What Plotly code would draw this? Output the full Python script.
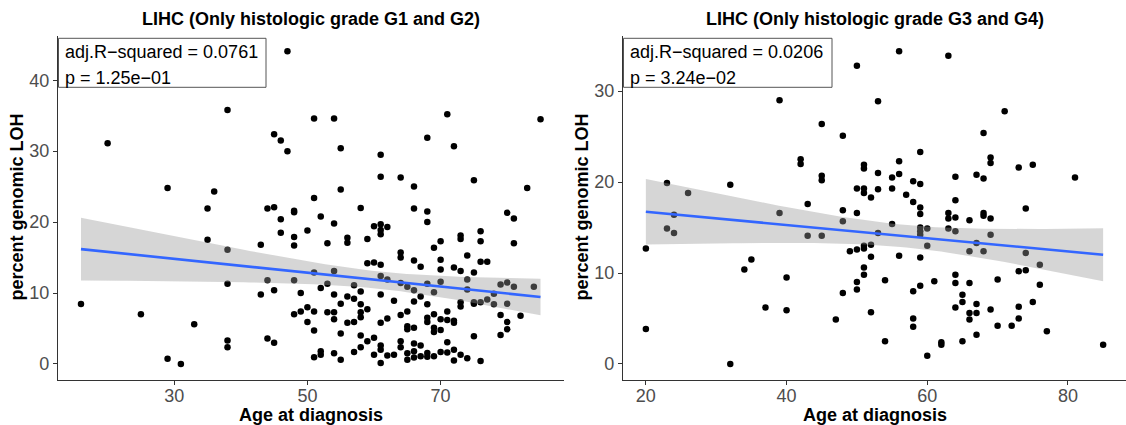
import numpy as np
import plotly.graph_objects as go

# ---------------- data ----------------
# Panel 1: LIHC, histologic grade G1 and G2
g12_age = [16, 20, 25, 29, 29, 31, 33, 35, 35, 36,
           38, 38, 38, 38, 38, 43, 43, 44, 44, 44,
           45, 45, 45, 45, 46, 46, 46, 47, 47,
           48, 48, 48, 48, 48, 48, 49, 49, 50, 50, 50,
           51, 51, 51, 51, 51, 51, 52, 52, 52, 52, 53, 53, 53,
           54, 54, 54, 54, 54, 54, 54, 55, 55, 55, 55, 55,
           56, 56, 56, 56, 57, 57, 57, 57,
           58, 58, 58, 58, 58, 58, 58, 59, 59, 59, 59, 60, 60, 60, 60,
           61, 61, 61, 61, 61, 61, 61, 61, 61, 61, 61, 61,
           62, 62, 62, 62, 63, 63,
           64, 64, 64, 64, 64, 64, 64, 65, 65, 65, 65, 65, 65,
           66, 66, 66, 66, 66, 66, 66, 66, 66, 67, 67, 67, 67,
           68, 68, 68, 68, 68, 68, 68, 68, 68, 69, 69, 69, 69, 69, 69,
           70, 70, 70, 70, 70, 70, 70, 71, 71, 71, 71, 71,
           72, 72, 72, 72, 72, 72, 73, 73, 73, 73, 73, 73,
           74, 74, 74, 74, 75, 75, 75, 75, 75, 76, 76, 76, 76, 76,
           77, 77, 78, 78, 79, 79, 79, 80, 80, 80, 80, 80,
           81, 81, 81, 82, 83, 84, 85]
g12_loh = [8.45, 31.1, 7.0, 24.8, 0.75, 0.0, 5.6, 21.9, 17.5, 24.3,
           35.8, 16.1, 11.3, 3.3, 2.35, 16.8, 9.8, 21.9, 11.8, 3.6,
           32.4, 22.1, 10.4, 3.0, 31.5, 20.4, 18.5, 44.1, 30.0,
           21.6, 21.4, 17.9, 16.7, 11.8, 7.0, 7.4, 10.0, 18.8, 8.0, 5.9,
           34.6, 23.4, 12.9, 7.4, 4.7, 0.95, 20.8, 10.7, 1.8, 1.3, 17.0, 11.3, 7.3,
           34.6, 19.8, 13.1, 9.8, 7.3, 6.3, 1.5, 30.4, 24.6, 8.5, 4.3, 0.6,
           17.8, 17.1, 9.5, 5.8, 11.1, 9.2, 5.9, 1.7,
           22.0, 10.2, 8.4, 7.3, 6.6, 4.0, 2.35, 17.6, 14.2, 7.7, 3.2, 19.4, 14.3, 3.7, 1.3,
           29.5, 26.4, 19.7, 18.9, 18.3, 14.0, 12.4, 9.8, 5.8, 2.6, 2.0, 0.15,
           19.3, 11.9, 6.4, 1.2, 8.9, 1.3,
           26.3, 15.7, 15.0, 11.4, 6.9, 3.2, 2.35, 10.9, 7.4, 5.3, 4.9, 1.5, 0.6,
           25.0, 21.9, 14.6, 10.4, 8.8, 5.1, 2.9, 1.8, 0.9, 13.7, 9.5, 2.6, 1.1,
           31.9, 21.5, 20.0, 11.3, 8.4, 6.5, 5.9, 1.55, 1.0, 16.4, 10.1, 7.0, 5.1, 4.5, 1.1,
           17.3, 14.7, 13.3, 11.6, 6.3, 4.8, 1.7, 35.2, 7.4, 6.2, 3.05, 1.6,
           30.7, 13.6, 6.1, 5.8, 2.0, 0.5, 18.1, 17.6, 13.1, 8.7, 8.1, 1.3,
           15.3, 11.9, 10.5, 0.8, 25.9, 12.9, 8.7, 8.5, 3.9, 18.7, 17.3, 14.4, 8.7, 0.4,
           14.4, 9.1, 9.9, 8.4, 11.2, 6.9, 4.1, 21.3, 11.5, 8.5, 5.9, 4.9,
           20.5, 17.0, 10.9, 6.8, 24.8, 10.9, 34.5]

# Panel 2: LIHC, histologic grade G3 and G4
g34_age = [20, 20, 23, 23, 24, 24, 26, 32, 32, 34, 35, 37, 39, 39, 40, 40,
           42, 42, 43, 43, 45, 45, 45, 45, 47, 48, 48, 48, 48, 49,
           50, 50, 50, 50, 50, 50, 51, 51, 51, 51, 51, 51, 51, 51,
           52, 52, 52, 52, 53, 53, 53, 53, 54, 54, 55, 55, 55,
           56, 56, 56, 56, 57, 58, 58, 58, 58, 58,
           59, 59, 59, 59, 59, 59, 59, 59, 59, 60, 60, 60, 61, 62, 62,
           63, 63, 63, 63, 64, 64, 64, 64, 64, 64, 64, 65, 65, 65,
           66, 66, 66, 66, 66, 67, 67, 67, 67, 67, 68, 68, 68, 68, 68,
           69, 69, 69, 69, 69, 70, 70, 71, 72, 73, 73, 73, 73,
           74, 74, 74, 75, 75, 76, 76, 77, 81, 85]
g34_loh = [12.7, 3.84, 19.9, 14.9, 16.4, 14.4, 18.8, 19.7, 0.0, 10.4, 11.5, 6.2, 29.0, 16.6, 9.5, 5.9,
           22.5, 22.0, 17.6, 14.1, 26.4, 20.7, 20.2, 14.1, 4.9, 25.1, 16.9, 15.7, 7.8, 12.4,
           32.8, 19.3, 16.6, 12.6, 9.0, 8.2, 21.9, 21.5, 19.3, 18.8, 13.0, 12.7, 10.6, 9.8,
           18.3, 13.1, 11.8, 5.7, 28.9, 21.0, 19.2, 14.4, 9.2, 2.5, 20.5, 19.3, 15.4,
           34.4, 22.3, 20.9, 11.9, 18.6, 20.1, 17.8, 8.0, 5.0, 4.1,
           23.3, 19.8, 17.2, 16.5, 15.0, 14.6, 14.2, 11.7, 8.6, 14.9, 13.0, 0.9, 9.1, 2.4, 2.1,
           33.9, 16.6, 16.0, 14.9, 20.6, 18.0, 16.1, 14.6, 9.8, 8.9, 6.2, 7.6, 6.8, 2.5,
           15.8, 12.4, 8.9, 5.6, 4.9, 20.8, 13.3, 6.6, 5.6, 3.2, 25.4, 20.4, 16.6, 16.3, 12.4,
           22.7, 22.1, 16.0, 14.2, 6.0, 9.3, 4.2, 27.8, 4.2, 21.6, 10.2, 6.3, 5.0,
           17.1, 12.2, 10.3, 21.9, 6.8, 10.9, 8.7, 3.6, 20.5, 2.1]

titles = ["LIHC (Only histologic grade G1 and G2)", "LIHC (Only histologic grade G3 and G4)"]
stats_r2 = ["adj.R\u2212squared = 0.0761", "adj.R\u2212squared = 0.0206"]
stats_p = ["p = 1.25e\u221201", "p = 3.24e\u221202"]
x_ticks = [[30, 50, 70], [20, 40, 60, 80]]
y_ticks = [[0, 10, 20, 30, 40], [0, 10, 20, 30]]
x_label = "Age at diagnosis"
y_label = "percent genomic LOH"

# ---------------- layout geometry ----------------
W, H = 1126, 425
FONT = "Liberation Sans, Arial, Helvetica, sans-serif"
panels_px = [(58, 563.5), (623, 1126)]   # plot-area left/right in px
top_px, bot_px = 35.5, 379.6


def px_x(p):
    return p / W


def px_y(p):
    return 1 - p / H


def lm_band(x, y, t=1.97, n_out=80):
    x = np.asarray(x, float)
    y = np.asarray(y, float)
    n = len(x)
    xb = x.mean()
    sxx = ((x - xb) ** 2).sum()
    b = ((x - xb) * (y - y.mean())).sum() / sxx
    a = y.mean() - b * xb
    res = y - (a + b * x)
    s = np.sqrt((res ** 2).sum() / (n - 2))
    xs = np.linspace(x.min(), x.max(), n_out)
    fit = a + b * xs
    se = s * np.sqrt(1 / n + (xs - xb) ** 2 / sxx)
    return xs, fit, fit - t * se, fit + t * se


def expand(v):
    lo, hi = min(v), max(v)
    d = (hi - lo) * 0.05
    return [lo - d, hi + d]


fig = go.Figure()
datasets = [(g12_age, g12_loh), (g34_age, g34_loh)]
annotations = []
shapes = []

for i, (ages, vals) in enumerate(datasets):
    xa = "x" if i == 0 else "x2"
    ya = "y" if i == 0 else "y2"
    fig.add_trace(go.Scatter(x=ages, y=vals, mode="markers", xaxis=xa, yaxis=ya,
                             marker=dict(color="black", size=6.5, line=dict(width=0)),
                             showlegend=False, hoverinfo="skip"))
    xs, fit, lo, hi = lm_band(ages, vals, t=1.97 if i == 0 else 1.98)
    fig.add_trace(go.Scatter(x=list(xs) + list(xs[::-1]), y=list(hi) + list(lo[::-1]),
                             mode="lines", fill="toself", line=dict(width=0),
                             fillcolor="rgba(153,153,153,0.4)", xaxis=xa, yaxis=ya,
                             showlegend=False, hoverinfo="skip"))
    fig.add_trace(go.Scatter(x=xs, y=fit, mode="lines", line=dict(color="#3366FF", width=2.6),
                             xaxis=xa, yaxis=ya, showlegend=False, hoverinfo="skip"))

    l, r = panels_px[i]
    cx = (l + r) / 2
    axis_common = dict(showgrid=False, zeroline=False, showline=True, linecolor="#333333",
                       linewidth=1.3, ticks="outside", ticklen=4, tickwidth=1.1,
                       tickcolor="#333333", tickfont=dict(family=FONT, size=18, color="#4D4D4D"),
                       automargin=False, fixedrange=True)
    xkey = "xaxis" if i == 0 else "xaxis2"
    ykey = "yaxis" if i == 0 else "yaxis2"
    fig.update_layout(**{
        xkey: dict(domain=[px_x(l), px_x(r)], range=expand(ages), tickvals=x_ticks[i],
                   anchor=ya, ticklabelstandoff=-4, **axis_common),
        ykey: dict(domain=[px_y(bot_px), px_y(top_px)], range=expand(vals), tickvals=y_ticks[i],
                   anchor=xa, **axis_common),
    })

    # panel title
    annotations.append(dict(text=titles[i], x=px_x(cx), y=px_y(19), xref="paper", yref="paper",
                            xanchor="center", yanchor="middle", showarrow=False,
                            font=dict(family=FONT, size=18, color="black", weight="bold")))
    # axis titles
    annotations.append(dict(text=x_label, x=px_x(cx), y=px_y(415), xref="paper", yref="paper",
                            xanchor="center", yanchor="middle", showarrow=False,
                            font=dict(family=FONT, size=18, color="black", weight="bold")))
    annotations.append(dict(text=y_label, x=px_x(l - 41), y=px_y((top_px + bot_px) / 2),
                            xref="paper", yref="paper", textangle=-90,
                            xanchor="center", yanchor="middle", showarrow=False,
                            font=dict(family=FONT, size=18, color="black", weight="bold")))
    # statistics label box
    bx0 = l + 0.5
    bx1 = l + (208 if i == 0 else 209)
    shapes.append(dict(type="rect", xref="paper", yref="paper",
                       x0=px_x(bx0), x1=px_x(bx1), y0=px_y(87.3), y1=px_y(38.3),
                       line=dict(color="#555555", width=1), fillcolor="white", layer="above"))
    annotations.append(dict(text=stats_r2[i], x=px_x(l + 4.5), y=px_y(51.5), xref="paper",
                            yref="paper", xanchor="left", yanchor="middle", showarrow=False,
                            font=dict(family=FONT, size=18, color="black")))
    annotations.append(dict(text=stats_p[i], x=px_x(l + 4.5), y=px_y(78.3), xref="paper",
                            yref="paper", xanchor="left", yanchor="middle", showarrow=False,
                            font=dict(family=FONT, size=18, color="black")))

fig.update_layout(width=W, height=H, margin=dict(l=0, r=0, t=0, b=0),
                  paper_bgcolor="white", plot_bgcolor="white",
                  annotations=annotations, shapes=shapes, showlegend=False)

fig.write_html("out.html", config={"displayModeBar": False},
               post_script="document.body.style.margin='0px';document.body.style.overflow='hidden';")
